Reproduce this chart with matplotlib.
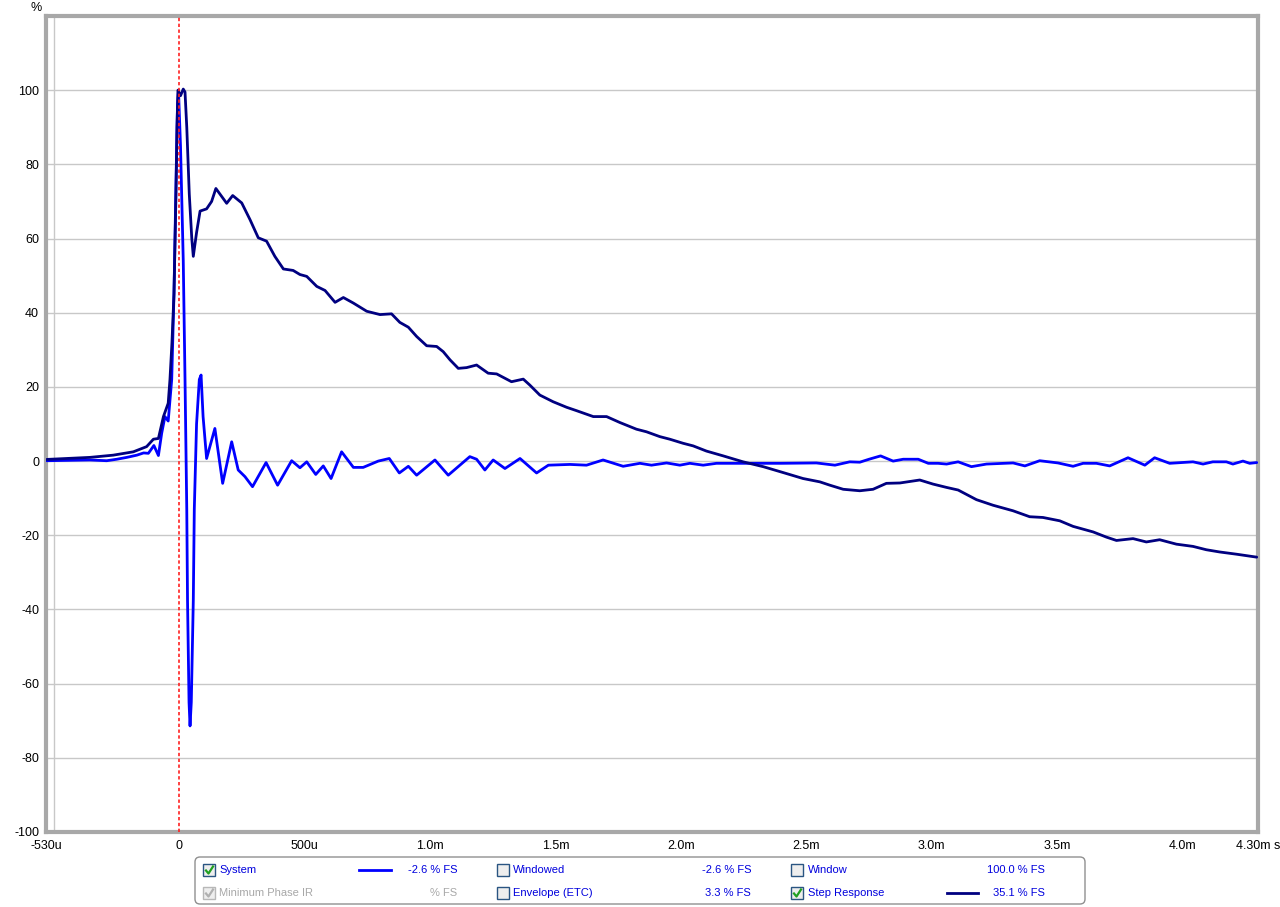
import matplotlib
matplotlib.use('Agg')
import matplotlib.pyplot as plt
from matplotlib.patches import Rectangle, FancyBboxPatch
from matplotlib.lines import Line2D
from matplotlib.transforms import IdentityTransform

plt.rcParams['font.family'] = ['Liberation Sans', 'DejaVu Sans']
plt.rcParams['axes.unicode_minus'] = False

# time in ms, values in % FS
t_step = [-0.527, -0.355, -0.262, -0.182, -0.129, -0.102, -0.082, -0.062, -0.043, -0.036,
          -0.028, -0.020, -0.012, -0.008, -0.004, 0.006, 0.017, 0.024, 0.031, 0.041,
          0.051, 0.057, 0.070, 0.084, 0.110, 0.130, 0.147, 0.190, 0.214, 0.250,
          0.283, 0.316, 0.349, 0.382, 0.416, 0.455, 0.482, 0.509, 0.549, 0.582,
          0.622, 0.655, 0.695, 0.748, 0.801, 0.847, 0.880, 0.914, 0.947, 0.987,
          1.027, 1.053, 1.080, 1.113, 1.146, 1.186, 1.232, 1.266, 1.325, 1.372,
          1.398, 1.438, 1.491, 1.545, 1.584, 1.651, 1.704, 1.757, 1.823, 1.863,
          1.916, 1.956, 2.009, 2.049, 2.102, 2.169, 2.248, 2.328, 2.408, 2.487,
          2.554, 2.594, 2.647, 2.713, 2.766, 2.819, 2.873, 2.952, 3.005, 3.059,
          3.105, 3.178, 3.244, 3.324, 3.390, 3.443, 3.510, 3.563, 3.643, 3.696,
          3.736, 3.802, 3.855, 3.908, 3.975, 4.041, 4.094, 4.147, 4.214, 4.295]
v_step = [0.45, 1.0, 1.6, 2.5, 3.9, 5.9, 6.1, 12.0, 15.6, 22.0,
          32.0, 45.0, 72.0, 90.0, 100.0, 98.5, 100.3, 99.5, 90.0, 72.0,
          60.0, 55.2, 61.6, 67.4, 68.0, 70.0, 73.5, 69.5, 71.6, 69.6,
          65.1, 60.2, 59.3, 55.2, 51.8, 51.4, 50.3, 49.8, 47.1, 46.0,
          42.8, 44.1, 42.6, 40.4, 39.5, 39.7, 37.4, 36.1, 33.6, 31.1,
          30.9, 29.5, 27.3, 25.0, 25.2, 25.9, 23.7, 23.5, 21.4, 22.1,
          20.5, 17.8, 16.0, 14.5, 13.6, 12.0, 12.0, 10.4, 8.6, 7.9,
          6.6, 5.9, 4.8, 4.1, 2.7, 1.4, -0.2, -1.5, -3.1, -4.7,
          -5.6, -6.5, -7.6, -8.0, -7.6, -6.0, -5.9, -5.1, -6.2, -7.1,
          -7.8, -10.4, -11.9, -13.4, -15.0, -15.2, -16.1, -17.6, -19.1, -20.5,
          -21.4, -20.9, -21.8, -21.2, -22.4, -23.0, -23.9, -24.5, -25.1, -25.9]

t_sys = [-0.527, -0.355, -0.288, -0.248, -0.208, -0.168, -0.141, -0.122, -0.100, -0.082,
         -0.069, -0.056, -0.043, -0.029, -0.020, -0.012, -0.006, -0.002, 0.006, 0.017,
         0.024, 0.031, 0.034, 0.040, 0.044, 0.049, 0.057, 0.061, 0.070, 0.081,
         0.088, 0.096, 0.110, 0.143, 0.174, 0.210, 0.236, 0.263, 0.293, 0.347,
         0.393, 0.449, 0.482, 0.509, 0.545, 0.575, 0.606, 0.648, 0.695, 0.734,
         0.794, 0.838, 0.878, 0.914, 0.947, 1.020, 1.073, 1.159, 1.186, 1.219,
         1.252, 1.299, 1.359, 1.425, 1.472, 1.558, 1.624, 1.690, 1.770, 1.837,
         1.883, 1.943, 1.996, 2.036, 2.089, 2.142, 2.250, 2.400, 2.540, 2.614,
         2.673, 2.713, 2.750, 2.796, 2.846, 2.886, 2.946, 2.986, 3.025, 3.059,
         3.105, 3.158, 3.218, 3.324, 3.371, 3.430, 3.503, 3.563, 3.603, 3.656,
         3.709, 3.782, 3.849, 3.888, 3.948, 4.041, 4.081, 4.120, 4.174, 4.200,
         4.240, 4.267, 4.295]
v_sys = [0.1, 0.3, 0.1, 0.5, 1.0, 1.6, 2.2, 2.1, 4.2, 1.5,
         7.5, 12.0, 10.8, 22.0, 45.0, 75.0, 96.0, 100.0, 85.0, 54.0,
         22.0, -13.0, -37.6, -65.0, -71.4, -65.0, -37.6, -13.0, 10.0, 22.0,
         23.2, 12.0, 0.7, 8.8, -6.0, 5.2, -2.4, -4.2, -6.9, -0.4,
         -6.5, 0.1, -1.8, -0.2, -3.6, -1.3, -4.7, 2.5, -1.7, -1.7,
         0.0, 0.7, -3.2, -1.4, -3.8, 0.3, -3.8, 1.2, 0.5, -2.4,
         0.3, -2.0, 0.7, -3.2, -1.1, -0.9, -1.1, 0.3, -1.4, -0.6,
         -1.1, -0.5, -1.1, -0.6, -1.1, -0.6, -0.6, -0.6, -0.5, -1.1,
         -0.2, -0.3, 0.5, 1.4, 0.0, 0.5, 0.5, -0.6, -0.6, -0.8,
         -0.2, -1.5, -0.8, -0.5, -1.3, 0.1, -0.5, -1.4, -0.6, -0.6,
         -1.3, 0.9, -1.1, 0.9, -0.6, -0.2, -0.8, -0.2, -0.2, -0.8,
         0.0, -0.6, -0.4]

xtick_pos = [-0.53, 0, 0.5, 1.0, 1.5, 2.0, 2.5, 3.0, 3.5, 4.0, 4.3]
xtick_labels = ['-530u', '0', '500u', '1.0m', '1.5m', '2.0m', '2.5m', '3.0m', '3.5m', '4.0m', '4.30m s']
xgrid = [-0.5, 0, 0.5, 1.0, 1.5, 2.0, 2.5, 3.0, 3.5, 4.0]
ytick_pos = [-100, -80, -60, -40, -20, 0, 20, 40, 60, 80, 100]

legend_names = ['System', 'Windowed', 'Window', 'Minimum Phase IR', 'Envelope (ETC)', 'Step Response']
legend_values = ['-2.6 % FS', '-2.6 % FS', '100.0 % FS', '% FS', '3.3 % FS', '35.1 % FS']
legend_checked = [True, False, False, True, False, True]
legend_enabled = [True, True, True, False, True, True]
legend_lines = ['#0000ff', None, None, None, None, '#000080']

W, H = 1280, 907
fig = plt.figure(figsize=(W / 100, H / 100), dpi=100)
ax = fig.add_axes([46 / W, 1 - 832 / H, (1258 - 46) / W, (832 - 16) / H])

ax.plot(t_sys, v_sys, color='#0000ff', lw=2, zorder=3,
        solid_joinstyle='round', solid_capstyle='round')
ax.plot(t_step, v_step, color='#000080', lw=2, zorder=4,
        solid_joinstyle='round', solid_capstyle='round')
ax.axvline(0, color='#ff2020', lw=1.2, ls=(0, (2, 1.5)), zorder=5)

ax.set_xlim(-0.53, 4.3)
ax.set_ylim(-100, 120)
ax.set_xticks(xtick_pos, xtick_labels)
ax.set_xticks(xgrid, minor=True)
ax.set_yticks(ytick_pos)
ax.tick_params(which='both', length=0, labelsize=9)
ax.tick_params(axis='x', pad=6)
ax.tick_params(axis='y', pad=5)
ax.grid(which='minor', axis='x', color='#c8c8c8', lw=1)
ax.grid(which='major', axis='y', color='#c8c8c8', lw=1)
ax.set_axisbelow(True)
for sp in ax.spines.values():
    sp.set_color('#a8a8a8')
    sp.set_linewidth(3)

tr = IdentityTransform()


def px(x, y):
    return x, H - y


fig.text(*px(36, 8), '%', transform=tr, ha='center', va='center', fontsize=9)

# legend panel
box = FancyBboxPatch(px(195, 904), 890, 47, boxstyle='round,pad=0,rounding_size=5',
                     transform=tr, facecolor='white', edgecolor='#909090', lw=1)
fig.patches.append(box)

col_box = [203, 497, 791]
col_text = [219, 513, 808]
col_val = [457, 751, 1045]
col_line = [(359, 391), (653, 685), (947, 978)]
row_y = [870, 893]

for i, name in enumerate(legend_names):
    r, c = divmod(i, 3)
    y = row_y[r]
    enabled = legend_enabled[i]
    tcol = '#0000dd' if enabled else '#a8a8a8'
    ecol = '#2a5582' if enabled else '#b8b8b8'
    fig.patches.append(Rectangle(px(col_box[c], y + 6), 12, 12, transform=tr,
                                 facecolor='#eeeeee', edgecolor=ecol, lw=1))
    if legend_checked[i]:
        ccol = '#22a022' if enabled else '#b0b0b0'
        xs = [col_box[c] + 3, col_box[c] + 5.5, col_box[c] + 10]
        ys = [H - (y + 0.5), H - (y + 3.5), H - (y - 3.5)]
        fig.lines.append(Line2D(xs, ys, transform=tr, color=ccol, lw=1.6))
    fig.text(*px(col_text[c], y), name, transform=tr, ha='left', va='center',
             fontsize=8, color=tcol)
    fig.text(*px(col_val[c], y), legend_values[i], transform=tr, ha='right',
             va='center', fontsize=8, color=tcol)
    if legend_lines[i]:
        x0, x1 = col_line[c]
        fig.lines.append(Line2D([x0, x1], [H - y, H - y], transform=tr,
                                color=legend_lines[i], lw=2))

fig.savefig('out.png', dpi=100, facecolor='white')
